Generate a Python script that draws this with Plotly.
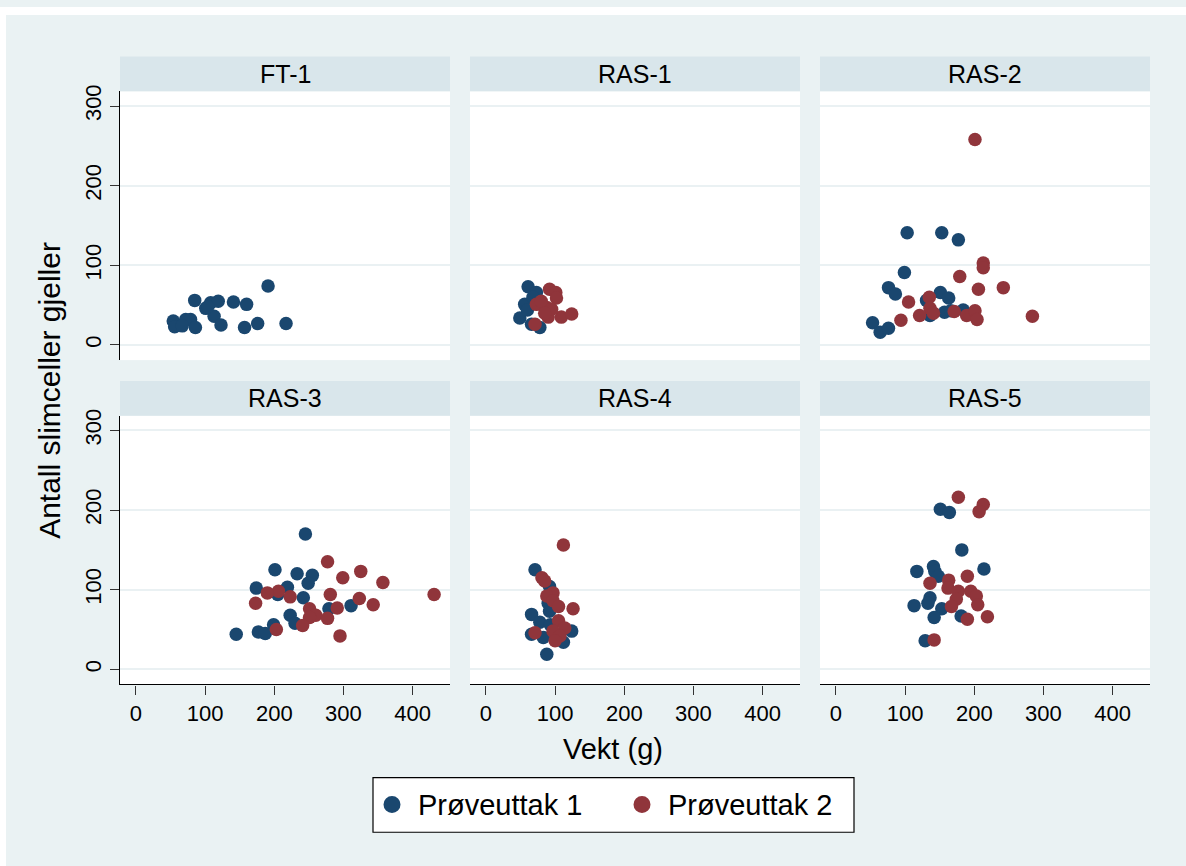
import plotly.graph_objects as go
from plotly.subplots import make_subplots

W, H = 1186, 866

# ---------------- data ----------------
panels = ["FT-1", "RAS-1", "RAS-2", "RAS-3", "RAS-4", "RAS-5"]
series_names = ["Prøveuttak 1", "Prøveuttak 2"]
x_tickvals = [0, 100, 200, 300, 400]
y_tickvals = [0, 100, 200, 300]
x_title = "Vekt (g)"
y_title = "Antall slimceller gjeller"

ft1_s1_x = [191, 85, 101, 108, 119, 141, 160, 113, 123, 157, 176, 217, 54, 56, 72, 79, 67, 86, 104]
ft1_s1_y = [74, 56, 46, 53, 55, 54, 51, 36, 25, 22, 27, 27, 30, 23, 32, 32, 24, 22, 48]
ft1_s2_x = []
ft1_s2_y = []

ras1_s1_x = [61, 73, 56, 49, 66, 78, 68, 60]
ras1_s1_y = [73, 66, 51, 34, 26, 22, 60, 44]
ras1_s2_x = [92, 101, 73, 88, 71, 90, 109, 124, 102, 80, 95, 85]
ras1_s2_y = [70, 66, 51, 47, 26, 35, 35, 39, 59, 55, 45, 40]

ras2_s1_x = [103, 153, 177, 99, 76, 86, 151, 163, 131, 184, 157, 136, 53, 64, 76, 166]
ras2_s1_y = [141, 141, 132, 91, 72, 64, 66, 59, 56, 44, 41, 37, 28, 16, 21, 43]
ras2_s2_x = [201, 213, 213, 179, 206, 242, 105, 135, 136, 141, 121, 94, 171, 189, 201, 204, 284]
ras2_s2_y = [258, 103, 97, 86, 70, 72, 54, 60, 46, 40, 37, 31, 42, 37, 43, 32, 36]

ras3_s1_x = [245, 201, 233, 255, 249, 174, 219, 205, 242, 223, 279, 311, 230, 199, 177, 187, 145]
ras3_s1_y = [170, 125, 120, 118, 108, 102, 103, 94, 90, 68, 76, 80, 58, 56, 47, 45, 44]
ras3_s2_x = [277, 325, 299, 357, 431, 281, 323, 206, 190, 223, 173, 343, 291, 251, 260, 251, 277, 241, 203, 295]
ras3_s2_y = [135, 123, 115, 109, 94, 94, 89, 98, 96, 91, 83, 81, 77, 76, 68, 65, 64, 55, 50, 42]

ras4_s1_x = [71, 92, 90, 92, 66, 78, 66, 83, 124, 112, 88, 93]
ras4_s1_y = [125, 104, 83, 73, 69, 59, 44, 40, 48, 34, 19, 56]
ras4_s2_x = [112, 81, 85, 97, 88, 97, 105, 126, 105, 114, 71, 97, 107, 100]
ras4_s2_y = [156, 115, 111, 96, 92, 86, 79, 76, 61, 52, 46, 48, 42, 36]

ras5_s1_x = [151, 164, 182, 214, 117, 141, 143, 148, 136, 133, 113, 153, 142, 181, 129]
ras5_s1_y = [201, 197, 150, 126, 123, 129, 123, 117, 90, 83, 80, 76, 65, 67, 36]
ras5_s2_x = [177, 213, 207, 190, 136, 163, 162, 177, 195, 203, 174, 167, 205, 219, 190, 142]
ras5_s2_y = [216, 207, 198, 117, 108, 112, 102, 98, 98, 92, 88, 79, 81, 66, 63, 37]

panel_data = [
    (ft1_s1_x, ft1_s1_y, ft1_s2_x, ft1_s2_y),
    (ras1_s1_x, ras1_s1_y, ras1_s2_x, ras1_s2_y),
    (ras2_s1_x, ras2_s1_y, ras2_s2_x, ras2_s2_y),
    (ras3_s1_x, ras3_s1_y, ras3_s2_x, ras3_s2_y),
    (ras4_s1_x, ras4_s1_y, ras4_s2_x, ras4_s2_y),
    (ras5_s1_x, ras5_s1_y, ras5_s2_x, ras5_s2_y),
]

# ---------------- style ----------------
BLUE = "#1A476F"
RED = "#90353B"
BG = "#EAF2F3"
STRIP = "#D9E6EB"
GRID = "#EAF1F3"
FONT = "Liberation Sans, Arial, Helvetica, sans-serif"
colors = [BLUE, RED]

def px_x(p):
    return p / W

def px_y(p):
    return 1 - p / H

col_px = [(120, 450), (470, 800), (820, 1150)]
row_px = [(85, 356), (412, 683)]          # plot area (top, bottom) in pixels
strip_px = [(50, 85), (377, 412)]

fig = make_subplots(rows=2, cols=3)

for i, (sx1, sy1, sx2, sy2) in enumerate(panel_data):
    r, c = divmod(i, 3)
    for k, (xs, ys) in enumerate([(sx1, sy1), (sx2, sy2)]):
        fig.add_trace(
            go.Scatter(
                x=xs, y=ys, mode="markers", name=series_names[k],
                legendgroup=series_names[k], showlegend=False,
                marker=dict(size=13.5, color=colors[k], line=dict(width=0)),
            ),
            row=r + 1, col=c + 1,
        )

shapes = []
annotations = []
for i, name in enumerate(panels):
    r, c = divmod(i, 3)
    idx = "" if i == 0 else str(i + 1)
    x0, x1 = col_px[c]
    top, bot = row_px[r]
    bottom_row = r == 1
    left_col = c == 0
    fig.layout["xaxis" + idx].update(
        domain=[px_x(x0), px_x(x1)], range=[-23, 454],
        showgrid=False, zeroline=False,
        showline=bottom_row, linecolor="#000000", linewidth=1.2,
        ticks="outside" if bottom_row else "", ticklen=9, tickwidth=1.3, tickcolor="#333333",
        tickvals=x_tickvals, showticklabels=bottom_row,
        tickfont=dict(family=FONT, size=22, color="#000000"),
    )
    fig.layout["yaxis" + idx].update(
        domain=[px_y(bot), px_y(top)], range=[-19, 318.5],
        showgrid=True, gridcolor=GRID, gridwidth=2, zeroline=False,
        showline=left_col, linecolor="#000000", linewidth=1.2,
        ticks="outside" if left_col else "", ticklen=9, tickwidth=1.3, tickcolor="#333333",
        tickvals=y_tickvals, showticklabels=left_col, tickangle=-90,
        tickfont=dict(family=FONT, size=22, color="#000000"),
    )
    st, sb = strip_px[r]
    shapes.append(dict(type="rect", xref="paper", yref="paper", layer="below",
                       x0=px_x(x0), x1=px_x(x1), y0=px_y(sb), y1=px_y(st),
                       fillcolor=STRIP, line=dict(width=0)))
    annotations.append(dict(text=name, xref="paper", yref="paper",
                            x=px_x((x0 + x1) / 2), y=px_y((st + sb) / 2),
                            xanchor="center", yanchor="middle", showarrow=False,
                            font=dict(family=FONT, size=25, color="#000000")))

# white outer margin (top, left)
shapes.append(dict(type="rect", xref="paper", yref="paper", layer="above",
                   x0=0, x1=px_x(6), y0=0, y1=1, fillcolor="#FFFFFF", line=dict(width=0)))
shapes.append(dict(type="rect", xref="paper", yref="paper", layer="above",
                   x0=0, x1=1, y0=px_y(8), y1=1, fillcolor="#FFFFFF", line=dict(width=0)))

# axis titles
annotations.append(dict(text=x_title, xref="paper", yref="paper", x=px_x(613), y=px_y(748),
                        xanchor="center", yanchor="middle", showarrow=False,
                        font=dict(family=FONT, size=29, color="#000000")))
annotations.append(dict(text=y_title, xref="paper", yref="paper", x=px_x(50), y=px_y(387),
                        xanchor="center", yanchor="middle", showarrow=False, textangle=-90,
                        font=dict(family=FONT, size=30, color="#000000")))

# legend box
shapes.append(dict(type="rect", xref="paper", yref="paper", layer="above",
                   x0=px_x(373), x1=px_x(854), y0=px_y(832), y1=px_y(777),
                   fillcolor="#FFFFFF", line=dict(color="#000000", width=1.2)))
leg_marker_x = [392, 642]
leg_text_x = [416, 666]
for k in range(2):
    cx, cy, rr = leg_marker_x[k], 804, 8.5
    shapes.append(dict(type="circle", xref="paper", yref="paper", layer="above",
                       x0=px_x(cx - rr), x1=px_x(cx + rr), y0=px_y(cy + rr), y1=px_y(cy - rr),
                       fillcolor=colors[k], line=dict(width=0)))
    annotations.append(dict(text=series_names[k], xref="paper", yref="paper",
                            x=px_x(leg_text_x[k]), y=px_y(804), xanchor="left", yanchor="middle",
                            showarrow=False, font=dict(family=FONT, size=29, color="#000000")))

fig.update_layout(
    width=W, height=H, margin=dict(l=0, r=0, t=0, b=0),
    paper_bgcolor=BG, plot_bgcolor="#FFFFFF",
    showlegend=False, shapes=shapes, annotations=annotations,
    font=dict(family=FONT),
)

fig.write_html("out.html")
